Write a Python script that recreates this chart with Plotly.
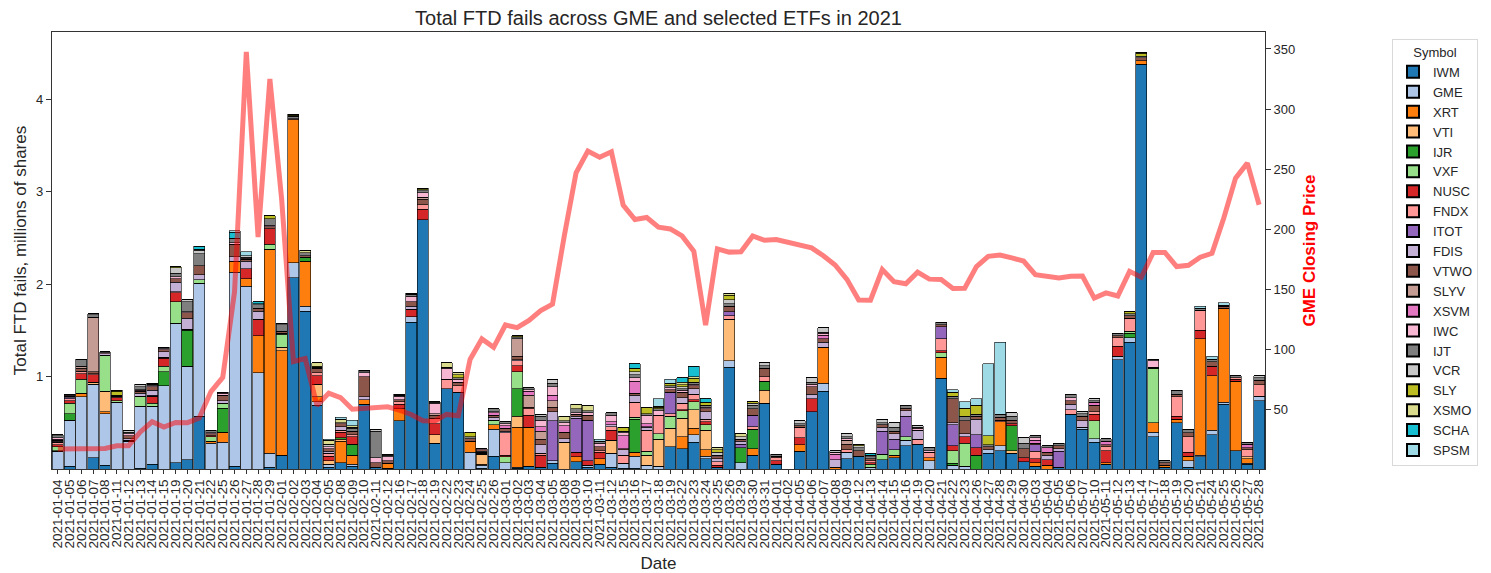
import plotly.graph_objects as go

dates = [
    "2021-01-04","2021-01-05","2021-01-06","2021-01-07","2021-01-08","2021-01-11","2021-01-12","2021-01-13","2021-01-14","2021-01-15",
    "2021-01-19","2021-01-20","2021-01-21","2021-01-22","2021-01-25","2021-01-26","2021-01-27","2021-01-28","2021-01-29","2021-02-01",
    "2021-02-02","2021-02-03","2021-02-04","2021-02-05","2021-02-08","2021-02-09","2021-02-10","2021-02-11","2021-02-12","2021-02-16",
    "2021-02-17","2021-02-18","2021-02-19","2021-02-22","2021-02-23","2021-02-24","2021-02-25","2021-02-26","2021-03-01","2021-03-02",
    "2021-03-03","2021-03-04","2021-03-05","2021-03-08","2021-03-09","2021-03-10","2021-03-11","2021-03-12","2021-03-15","2021-03-16",
    "2021-03-17","2021-03-18","2021-03-19","2021-03-22","2021-03-23","2021-03-24","2021-03-25","2021-03-26","2021-03-29","2021-03-30",
    "2021-03-31","2021-04-01","2021-04-02","2021-04-05","2021-04-06","2021-04-07","2021-04-08","2021-04-09","2021-04-12","2021-04-13",
    "2021-04-14","2021-04-15","2021-04-16","2021-04-19","2021-04-20","2021-04-21","2021-04-22","2021-04-23","2021-04-26","2021-04-27",
    "2021-04-28","2021-04-29","2021-04-30","2021-05-03","2021-05-04","2021-05-05","2021-05-06","2021-05-07","2021-05-10","2021-05-11",
    "2021-05-12","2021-05-13","2021-05-14","2021-05-17","2021-05-18","2021-05-19","2021-05-20","2021-05-21","2021-05-24","2021-05-25",
    "2021-05-26","2021-05-27","2021-05-28",
]

# FTD fails, millions of shares, per symbol
IWM = [0, 0.03, 0, 0.12, 0.04, 0, 0, 0.01, 0.05, 0,
       0.07, 0.10, 0.57, 0, 0, 0.03, 0, 0, 0.02, 0.15,
       2.07, 1.71, 0.69, 0.02, 0.07, 0.03, 0.70, 0.02, 0.01, 0.52,
       1.59, 2.70, 0.28, 0.87, 0.83, 0, 0.01, 0.14, 0, 0.01,
       0.03, 0.02, 0.06, 0, 0.08, 0.02, 0.05, 0.02, 0.01, 0.01,
       0, 0, 0.24, 0.22, 0.29, 0.11, 0.02, 1.10, 0, 0.15,
       0.71, 0.05, 0, 0.19, 0.62, 0.84, 0, 0.11, 0.14, 0,
       0.10, 0.12, 0.25, 0.27, 0, 0.98, 0, 0, 0, 0.17,
       0.20, 0.17, 0.08, 0.03, 0, 0.02, 0.59, 0.43, 0.29, 0.05,
       1.18, 1.37, 4.38, 0.35, 0.02, 0.50, 0.02, 0.13, 0.37, 0.70,
       0.20, 0.05, 0.74]
GME = [0.19, 0.50, 0.78, 0.80, 0.56, 0.72, 0.30, 0.67, 0.63, 0.90,
       1.51, 1.01, 1.44, 0.28, 0.29, 2.10, 1.98, 1.04, 0.15, 0,
       0.16, 0.05, 0.04, 0.03, 0, 0.02, 0, 0, 0, 0,
       0.06, 0, 0, 0, 0, 0.18, 0.03, 0.29, 0.07, 0.01,
       0, 0, 0.03, 0, 0, 0.02, 0, 0.15, 0.05, 0.13,
       0.04, 0.03, 0, 0, 0.08, 0.03, 0, 0.07, 0.07, 0,
       0, 0, 0, 0, 0, 0.09, 0, 0.07, 0, 0.02,
       0, 0, 0.06, 0, 0.09, 0, 0.04, 0.03, 0, 0.04,
       0.05, 0, 0, 0, 0, 0, 0, 0.02, 0.04, 0,
       0.04, 0.05, 0, 0.05, 0, 0, 0.07, 0.02, 0.05, 0.02,
       0, 0.01, 0.05]
XRT = [0, 0, 0.04, 0, 0.02, 0, 0, 0, 0, 0,
       0, 0, 0, 0.02, 0.11, 0.12, 0.08, 0.40, 2.21, 1.13,
       1.55, 0.49, 0.05, 0, 0.23, 0.10, 0.05, 0, 0.05, 0.13,
       0, 0, 0, 0, 0, 0.12, 0.01, 0.05, 0, 0.43,
       0.42, 0, 0, 0, 0.05, 0, 0.06, 0, 0, 0.04,
       0, 0, 0, 0.13, 0.07, 0.07, 0, 0, 0, 0.07,
       0, 0, 0, 0.07, 0, 0.39, 0.02, 0, 0, 0,
       0, 0.03, 0, 0, 0.03, 0.23, 0, 0, 0, 0,
       0.26, 0, 0, 0.04, 0.04, 0, 0, 0, 0, 0.02,
       0, 0, 0.04, 0.10, 0.02, 0.04, 0.05, 1.26, 0.59, 1.02,
       0.75, 0.05, 0]
VTI = [0, 0, 0, 0.02, 0.22, 0, 0, 0, 0, 0,
       0, 0, 0, 0, 0, 0, 0, 0, 0, 0.04,
       0, 0, 0.14, 0.04, 0.02, 0, 0, 0, 0, 0,
       0, 0, 0.09, 0, 0, 0, 0.11, 0, 0, 0.12,
       0, 0, 0, 0.29, 0, 0, 0, 0.14, 0, 0,
       0.11, 0.29, 0.20, 0.20, 0.20, 0.21, 0, 0.45, 0, 0,
       0.14, 0, 0, 0, 0, 0, 0, 0, 0, 0,
       0, 0, 0, 0, 0, 0, 0, 0, 0, 0,
       0, 0.03, 0, 0, 0, 0, 0, 0, 0, 0,
       0, 0, 0, 0, 0, 0, 0, 0, 0, 0,
       0, 0.02, 0]
IJR = [0.01, 0.07, 0, 0, 0, 0, 0, 0, 0, 0.15,
       0, 0.39, 0, 0, 0.26, 0, 0, 0, 0, 0,
       0, 0.04, 0, 0, 0.02, 0.12, 0, 0, 0, 0,
       0, 0, 0, 0, 0, 0, 0, 0, 0, 0.30,
       0, 0, 0, 0, 0, 0, 0, 0, 0, 0.36,
       0, 0, 0, 0, 0, 0, 0, 0, 0.16, 0.21,
       0.10, 0, 0, 0, 0, 0, 0, 0, 0, 0,
       0, 0, 0, 0, 0, 0, 0.02, 0, 0.15, 0,
       0, 0.27, 0, 0, 0, 0, 0, 0, 0, 0,
       0, 0.05, 0, 0, 0, 0, 0, 0, 0, 0,
       0, 0, 0]
VXF = [0.04, 0.11, 0.15, 0, 0.39, 0.02, 0, 0.11, 0.03, 0.06,
       0.23, 0.01, 0.04, 0.05, 0.05, 0, 0, 0, 0.05, 0.14,
       0, 0, 0, 0, 0, 0, 0, 0, 0, 0,
       0, 0, 0, 0, 0, 0, 0.01, 0.04, 0.06, 0.18,
       0, 0, 0, 0, 0, 0, 0, 0, 0, 0.02,
       0.04, 0.06, 0.13, 0.08, 0.09, 0.06, 0, 0, 0, 0,
       0, 0, 0, 0, 0, 0, 0, 0, 0, 0.03,
       0.06, 0.06, 0.04, 0, 0, 0.05, 0.14, 0.25, 0, 0,
       0, 0, 0, 0, 0, 0, 0, 0, 0.19, 0,
       0, 0.02, 0, 0.59, 0, 0, 0, 0, 0, 0,
       0, 0, 0]
NUSC = [0.02, 0.03, 0.06, 0.08, 0, 0.03, 0.01, 0, 0.08, 0.09,
        0.10, 0, 0, 0.01, 0, 0, 0.11, 0.18, 0.17, 0.01,
        0, 0, 0.09, 0.05, 0.06, 0.08, 0, 0, 0, 0.05,
        0.08, 0.11, 0.12, 0, 0, 0, 0, 0, 0.02, 0.07,
        0.13, 0.13, 0, 0, 0.05, 0.05, 0.07, 0.11, 0, 0,
        0, 0, 0, 0.01, 0.02, 0.03, 0.02, 0, 0, 0,
        0, 0.04, 0, 0.08, 0.14, 0, 0, 0, 0, 0.02,
        0, 0, 0, 0, 0, 0.02, 0.05, 0.07, 0.08, 0,
        0, 0.02, 0.04, 0.04, 0.06, 0, 0, 0, 0.07, 0.13,
        0.11, 0, 0, 0, 0, 0.03, 0.04, 0.09, 0.10, 0,
        0.02, 0, 0]
FNDX = [0.03, 0.02, 0.02, 0.01, 0, 0, 0, 0, 0, 0.01,
        0.01, 0, 0, 0, 0, 0, 0, 0, 0, 0,
        0, 0, 0.03, 0.03, 0.02, 0.02, 0, 0, 0, 0.03,
        0, 0.05, 0.06, 0.10, 0.07, 0, 0.01, 0.01, 0.24, 0.05,
        0.07, 0.02, 0, 0, 0, 0, 0.02, 0.04, 0.09, 0.16,
        0.23, 0.20, 0.03, 0.07, 0.06, 0.03, 0.04, 0.04, 0, 0.03,
        0.05, 0.03, 0, 0.11, 0, 0, 0, 0.03, 0, 0.02,
        0, 0, 0, 0.05, 0.06, 0.13, 0, 0, 0, 0,
        0.02, 0, 0, 0.08, 0, 0, 0.05, 0, 0.03, 0.04,
        0.09, 0.14, 0, 0.01, 0, 0.21, 0.17, 0.22, 0, 0,
        0.02, 0.08, 0.12]
ITOT = [0, 0.01, 0, 0, 0, 0, 0, 0, 0.01, 0,
        0, 0, 0, 0, 0, 0, 0, 0, 0, 0,
        0, 0, 0, 0, 0, 0, 0, 0, 0, 0,
        0, 0, 0, 0, 0, 0, 0, 0, 0, 0,
        0, 0, 0.43, 0, 0.37, 0.44, 0, 0, 0, 0,
        0, 0, 0.23, 0, 0, 0, 0, 0.04, 0.04, 0.12,
        0, 0, 0, 0, 0, 0, 0, 0, 0, 0,
        0.25, 0.11, 0.22, 0, 0, 0.13, 0.23, 0, 0.14, 0,
        0, 0, 0, 0.07, 0, 0.17, 0, 0, 0, 0,
        0, 0, 0, 0, 0, 0, 0, 0, 0, 0,
        0, 0, 0]
FDIS = [0.01, 0.01, 0.01, 0, 0.02, 0, 0.02, 0.03, 0.05, 0.06,
        0.10, 0.12, 0.05, 0, 0.03, 0.05, 0.08, 0.09, 0, 0,
        0, 0, 0, 0.02, 0.04, 0, 0.03, 0, 0, 0,
        0.03, 0, 0, 0, 0, 0, 0.01, 0.03, 0.02, 0.01,
        0, 0.09, 0.10, 0.04, 0.02, 0, 0, 0.02, 0.06, 0.08,
        0.03, 0, 0, 0.06, 0.06, 0.08, 0.03, 0, 0.03, 0,
        0, 0, 0, 0, 0.05, 0.05, 0.08, 0, 0, 0,
        0.04, 0.06, 0.06, 0.10, 0, 0, 0.02, 0.03, 0.17, 0,
        0, 0, 0, 0, 0.05, 0.03, 0.06, 0.07, 0, 0,
        0, 0, 0, 0, 0, 0, 0, 0, 0, 0,
        0, 0, 0]
VTWO = [0.01, 0.01, 0.03, 0.02, 0, 0.02, 0.03, 0.02, 0.04, 0.02,
        0.04, 0.06, 0.10, 0.02, 0.06, 0.13, 0.02, 0.03, 0.02, 0.02,
        0.01, 0.02, 0.05, 0.03, 0.03, 0.04, 0.22, 0.05, 0.03, 0.02,
        0.05, 0.06, 0.03, 0, 0.04, 0.03, 0.02, 0.02, 0.03, 0.04,
        0.02, 0.06, 0.05, 0.07, 0.02, 0.05, 0.04, 0, 0.01, 0.02,
        0.01, 0, 0.03, 0.06, 0.03, 0.03, 0.02, 0.06, 0.02, 0.07,
        0.09, 0.02, 0, 0.02, 0.08, 0.04, 0, 0.06, 0.06, 0.02,
        0.03, 0.03, 0.02, 0, 0, 0.02, 0.26, 0.14, 0.03, 0.03,
        0.03, 0.04, 0.10, 0.02, 0.03, 0.03, 0.04, 0.05, 0.07, 0.02,
        0.02, 0.03, 0.03, 0, 0.03, 0.03, 0.04, 0, 0.05, 0.02,
        0, 0.02, 0.05]
SLYV = [0, 0, 0.02, 0.59, 0, 0, 0, 0, 0, 0,
        0, 0, 0, 0, 0, 0, 0, 0, 0, 0,
        0, 0, 0, 0, 0, 0, 0, 0, 0, 0,
        0, 0.02, 0.02, 0, 0, 0, 0, 0, 0, 0.19,
        0.13, 0.09, 0.07, 0, 0, 0, 0, 0, 0, 0,
        0, 0, 0, 0, 0, 0, 0, 0, 0, 0,
        0, 0, 0, 0, 0, 0, 0, 0.04, 0, 0,
        0, 0, 0, 0, 0, 0, 0, 0, 0, 0,
        0, 0, 0, 0, 0, 0, 0, 0, 0, 0,
        0, 0, 0, 0, 0, 0, 0, 0, 0, 0,
        0, 0, 0]
XSVM = [0.01, 0, 0, 0, 0, 0, 0, 0.01, 0, 0,
        0, 0, 0, 0, 0, 0, 0, 0, 0, 0,
        0, 0, 0, 0, 0, 0, 0, 0, 0, 0,
        0, 0, 0, 0, 0, 0, 0, 0.03, 0.03, 0,
        0.04, 0.05, 0.06, 0.07, 0, 0, 0, 0.03, 0.14, 0.13,
        0.03, 0, 0, 0, 0, 0, 0, 0, 0, 0,
        0, 0, 0, 0, 0, 0.04, 0.06, 0, 0, 0,
        0, 0, 0, 0, 0, 0, 0, 0, 0, 0,
        0, 0, 0, 0.03, 0.05, 0, 0, 0, 0.03, 0.04,
        0, 0, 0, 0, 0, 0, 0, 0, 0, 0,
        0, 0.04, 0]
IWC = [0.02, 0.01, 0, 0, 0.01, 0, 0.02, 0.01, 0.01, 0.01,
       0.02, 0.01, 0, 0.01, 0.02, 0.02, 0.01, 0, 0.02, 0,
       0, 0, 0, 0.02, 0.01, 0, 0.04, 0.05, 0.04, 0.04,
       0.06, 0.05, 0.11, 0.12, 0.03, 0, 0.01, 0.01, 0.02, 0,
       0.02, 0.07, 0.09, 0.03, 0.02, 0.03, 0.04, 0.07, 0.03, 0.04,
       0.09, 0.05, 0.02, 0.02, 0.02, 0.02, 0.02, 0, 0, 0,
       0, 0, 0, 0, 0.03, 0.02, 0.02, 0.02, 0, 0,
       0, 0, 0.01, 0.02, 0.02, 0, 0, 0, 0, 0,
       0, 0, 0, 0.03, 0, 0, 0.03, 0, 0, 0,
       0, 0, 0, 0.07, 0, 0, 0, 0, 0, 0,
       0, 0, 0]
IJT = [0.02, 0.01, 0.07, 0.03, 0.01, 0.01, 0.02, 0.03, 0.02, 0.01,
       0.04, 0.11, 0.13, 0.03, 0.01, 0.05, 0.01, 0.04, 0.07, 0.07,
       0.03, 0.03, 0.01, 0, 0, 0.03, 0.01, 0.29, 0.02, 0.01,
       0.02, 0.02, 0.01, 0.01, 0.02, 0.02, 0, 0.03, 0.02, 0.01,
       0.02, 0.04, 0.04, 0.02, 0.04, 0.02, 0.02, 0.03, 0.02, 0.03,
       0.02, 0.02, 0.02, 0.02, 0.02, 0.02, 0, 0.03, 0, 0.04,
       0.03, 0.02, 0, 0.02, 0.02, 0.01, 0, 0.02, 0.03, 0.02,
       0.02, 0.04, 0.03, 0.01, 0.03, 0.03, 0.03, 0.05, 0.02, 0.02,
       0.03, 0.04, 0.06, 0.02, 0.02, 0.03, 0.04, 0.03, 0.02, 0.03,
       0.03, 0.02, 0, 0.02, 0.02, 0.04, 0.04, 0.02, 0.03, 0.01,
       0.02, 0.02, 0.03]
VCR = [0.01, 0, 0.01, 0.01, 0, 0, 0.02, 0.03, 0, 0,
       0.06, 0.02, 0.04, 0, 0, 0, 0.02, 0.01, 0, 0.01,
       0, 0, 0, 0.03, 0, 0.01, 0.02, 0.02, 0.01, 0,
       0, 0.01, 0.01, 0, 0, 0, 0, 0, 0, 0.01,
       0, 0.02, 0.04, 0, 0, 0, 0, 0, 0, 0.03,
       0, 0, 0, 0.02, 0, 0, 0.03, 0.04, 0.03, 0.02,
       0.03, 0, 0, 0.03, 0.05, 0.05, 0.02, 0.03, 0.02, 0.02,
       0.04, 0.05, 0, 0.02, 0, 0, 0, 0, 0, 0,
       0, 0.04, 0.06, 0, 0, 0, 0, 0.02, 0.02, 0,
       0, 0, 0.02, 0, 0, 0, 0, 0, 0, 0,
       0, 0, 0.02]
SLY = [0, 0, 0, 0, 0, 0.04, 0, 0, 0.01, 0.01,
       0.01, 0, 0.01, 0, 0, 0, 0, 0, 0.03, 0.01,
       0.01, 0, 0.01, 0, 0, 0, 0, 0, 0, 0.01,
       0.01, 0.02, 0, 0, 0.03, 0.04, 0, 0, 0, 0.01,
       0, 0, 0, 0, 0, 0, 0, 0, 0.04, 0.04,
       0.07, 0.02, 0.03, 0.02, 0.04, 0.03, 0.03, 0.05, 0, 0.02,
       0, 0, 0, 0, 0, 0, 0, 0, 0.02, 0,
       0, 0, 0, 0, 0, 0, 0.04, 0.09, 0.10, 0.10,
       0, 0, 0, 0, 0, 0, 0, 0, 0, 0,
       0, 0.02, 0.03, 0, 0, 0, 0, 0, 0, 0,
       0, 0, 0]
XSMO = [0, 0, 0, 0, 0, 0.01, 0, 0, 0, 0,
        0, 0, 0, 0, 0, 0, 0, 0, 0, 0,
        0.01, 0.03, 0.04, 0.04, 0.04, 0.02, 0, 0, 0, 0,
        0, 0, 0, 0.05, 0.02, 0.01, 0, 0, 0, 0,
        0, 0, 0, 0.05, 0.05, 0.06, 0, 0, 0, 0,
        0, 0.01, 0, 0.03, 0.02, 0, 0.02, 0.02, 0.03, 0,
        0, 0, 0, 0, 0, 0, 0, 0, 0, 0,
        0, 0, 0, 0, 0, 0, 0, 0, 0, 0,
        0, 0, 0, 0, 0, 0, 0, 0, 0, 0,
        0, 0, 0.01, 0, 0, 0, 0, 0, 0, 0,
        0, 0, 0]
SCHA = [0, 0, 0, 0, 0, 0, 0, 0, 0, 0,
        0, 0, 0.03, 0, 0, 0.06, 0, 0.02, 0, 0,
        0, 0, 0, 0, 0, 0, 0, 0, 0, 0,
        0, 0, 0, 0, 0, 0, 0, 0, 0, 0,
        0, 0, 0, 0, 0, 0, 0, 0, 0, 0.05,
        0, 0, 0, 0.05, 0.11, 0.04, 0, 0, 0, 0,
        0, 0, 0, 0, 0, 0, 0, 0, 0, 0.02,
        0, 0, 0, 0, 0, 0, 0, 0, 0, 0,
        0, 0, 0, 0, 0, 0, 0, 0, 0, 0,
        0, 0, 0, 0, 0, 0, 0, 0, 0, 0,
        0, 0, 0]
SPSM = [0, 0, 0, 0, 0, 0, 0, 0, 0, 0,
        0, 0, 0, 0, 0, 0.02, 0.04, 0, 0, 0,
        0, 0, 0, 0.01, 0.02, 0.06, 0, 0, 0, 0,
        0, 0, 0, 0, 0, 0, 0, 0, 0, 0,
        0, 0, 0, 0, 0, 0, 0.02, 0, 0, 0,
        0, 0.08, 0.04, 0, 0, 0, 0, 0, 0, 0,
        0, 0, 0, 0, 0, 0, 0, 0, 0, 0,
        0, 0, 0, 0, 0, 0, 0.03, 0.07, 0.07, 0.78,
        0.78, 0, 0, 0, 0, 0, 0, 0, 0, 0,
        0, 0, 0, 0, 0, 0, 0, 0.02, 0.03, 0.03,
        0, 0, 0]

# GME closing price (no close on 2021-04-02)
gme_close = [17.25, 17.37, 18.36, 18.08, 17.69, 19.94, 19.95, 31.40, 39.91, 35.50,
             39.36, 39.12, 43.03, 65.01, 76.79, 147.98, 347.51, 193.60, 325.00, 225.00,
             90.00, 92.41, 53.50, 63.77, 60.00, 50.31, 51.20, 51.10, 52.40, 49.51,
             45.94, 40.69, 40.59, 46.00, 44.97, 91.71, 108.73, 101.74, 120.40, 118.18,
             124.18, 132.35, 137.74, 194.50, 246.90, 265.00, 260.00, 264.50, 220.14, 208.17,
             209.81, 201.75, 200.27, 194.49, 181.75, 120.34, 183.75, 181.00, 181.30, 194.46,
             190.82, 191.45, None, 186.95, 184.50, 177.97, 170.26, 158.36, 141.09, 140.99,
             166.53, 156.44, 154.69, 164.37, 158.53, 158.25, 150.79, 151.00, 169.00, 177.52,
             178.58, 176.19, 173.59, 162.27, 161.12, 159.46, 160.94, 161.06, 142.75, 147.10,
             144.50, 165.03, 160.11, 180.60, 180.70, 169.00, 170.10, 176.79, 180.00, 209.43,
             242.56, 255.00, 220.39]

symbols = ["IWM", "GME", "XRT", "VTI", "IJR", "VXF", "NUSC", "FNDX", "ITOT", "FDIS",
           "VTWO", "SLYV", "XSVM", "IWC", "IJT", "VCR", "SLY", "XSMO", "SCHA", "SPSM"]
series = [IWM, GME, XRT, VTI, IJR, VXF, NUSC, FNDX, ITOT, FDIS,
          VTWO, SLYV, XSVM, IWC, IJT, VCR, SLY, XSMO, SCHA, SPSM]
colors = ["#1f77b4", "#aec7e8", "#ff7f0e", "#ffbb78", "#2ca02c", "#98df8a", "#d62728", "#ff9896",
          "#9467bd", "#c5b0d5", "#8c564b", "#c49c94", "#e377c2", "#f7b6d2", "#7f7f7f", "#c7c7c7",
          "#bcbd22", "#dbdb8d", "#17becf", "#9edae5"]

FONT = "Liberation Sans, Arial, sans-serif"
TXT = "#262626"

fig = go.Figure()
for name, vals, col in zip(symbols, series, colors):
    fig.add_trace(go.Bar(
        x=dates, y=vals, name=name,
        marker=dict(color=col, line=dict(color="black", width=0.6)),
        yaxis="y",
    ))

fig.add_trace(go.Scatter(
    x=dates, y=gme_close, mode="lines", yaxis="y2", showlegend=False,
    connectgaps=True,
    line=dict(color="rgba(255,0,0,0.5)", width=5),
))

fig.update_layout(
    width=1491, height=573,
    barmode="stack", bargap=0.07,
    plot_bgcolor="white", paper_bgcolor="white",
    font=dict(family=FONT, color=TXT, size=13),
    margin=dict(l=44, r=234, t=24, b=112, autoexpand=False),
    title=dict(text="Total FTD fails across GME and selected ETFs in 2021",
               x=650.5 / 1491, xanchor="center", y=1 - 10 / 573, yanchor="middle",
               font=dict(size=20, color=TXT, family=FONT)),
    xaxis=dict(
        type="category", tickangle=-90, tickfont=dict(size=13.5, color=TXT),
        tickmode="array", tickvals=dates, ticktext=dates,
        showline=True, linecolor="#333", linewidth=1.2, mirror=True,
        ticks="outside", ticklen=4, tickcolor="#333",
        title=dict(text="Date", font=dict(size=17, color=TXT), standoff=9),
        automargin=False, range=[-0.5, len(dates) - 0.5],
    ),
    yaxis=dict(
        range=[0, 4.73], tickvals=[1, 2, 3, 4], tickfont=dict(size=13, color=TXT),
        showline=True, linecolor="#333", linewidth=1.2, mirror=True,
        ticks="outside", ticklen=5, tickcolor="#333", showgrid=False, zeroline=False,
        title=dict(text="Total FTD fails, millions of shares", font=dict(size=17, color=TXT), standoff=5),
        automargin=False,
    ),
    yaxis2=dict(
        overlaying="y", side="right", range=[0.6, 364.1],
        tickvals=[50, 100, 150, 200, 250, 300, 350], tickfont=dict(size=13, color=TXT),
        ticks="outside", ticklen=5, tickcolor="#333", showgrid=False, zeroline=False,
        title=dict(text="<b>GME Closing Price</b>", font=dict(size=17, color="red"), standoff=8),
        automargin=False,
    ),
    legend=dict(
        title=dict(text="Symbol", font=dict(size=13, color=TXT), side="top center"),
        x=(1392 - 52) / 1213, xanchor="left", y=0.984, yanchor="top",
        bordercolor="#d9d9d9", borderwidth=1, bgcolor="white",
        font=dict(size=13, color=TXT), traceorder="normal",
        itemsizing="constant", tracegroupgap=0,
    ),
    hovermode=False,
)

fig.write_html("out.html")
